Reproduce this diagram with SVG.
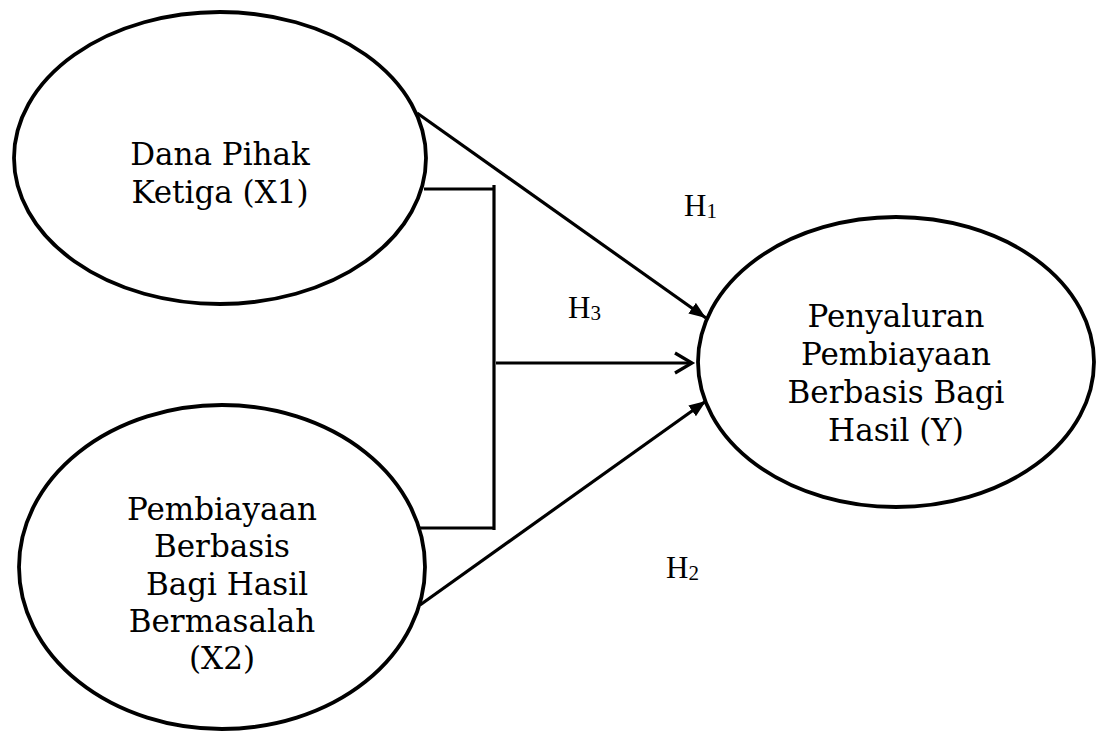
<svg xmlns="http://www.w3.org/2000/svg" width="1099" height="733" viewBox="0 0 1099 733">
<defs>
<style>
.node ellipse{fill:#fff;stroke:#000;stroke-width:3.8}
.lbl{font-family:"DejaVu Serif",serif;font-size:31px;fill:#000;text-anchor:middle}
.h{font-family:"Liberation Serif","Times New Roman",serif;font-size:31px;fill:#000}
.h tspan{font-size:21px}
.conn line,.conn polyline{stroke:#000;stroke-width:3.2;fill:none}
</style>
<marker id="tri" markerUnits="userSpaceOnUse" markerWidth="20" markerHeight="14" refX="17" refY="6.5" orient="auto">
<path d="M0,0 L17,6.5 L0,13 Z" fill="#000"/>
</marker>
</defs>
<rect width="1099" height="733" fill="#fff"/>
<g id="conn" class="conn">
<line x1="417" y1="113" x2="706" y2="318" marker-end="url(#tri)"/>
<line x1="420" y1="605" x2="706" y2="401" marker-end="url(#tri)"/>
<polyline points="424,189 494,189"/>
<line x1="494" y1="185" x2="494" y2="530"/>
<polyline points="420,528 494,528"/>
<line x1="496" y1="363" x2="692" y2="363"/>
<polyline points="675,353 692,363 675,373"/>
</g>
<g id="x1" class="node">
<ellipse cx="220" cy="158" rx="206" ry="146"/>
<text class="lbl" x="220" y="165">Dana Pihak</text>
<text class="lbl" x="220" y="203">Ketiga (X1)</text>
</g>
<g id="x2" class="node">
<ellipse cx="222" cy="567" rx="203" ry="162"/>
<text class="lbl" x="222" y="520">Pembiayaan</text>
<text class="lbl" x="222" y="557">Berbasis</text>
<text class="lbl" x="227" y="595">Bagi Hasil</text>
<text class="lbl" x="222" y="632">Bermasalah</text>
<text class="lbl" x="222" y="669">(X2)</text>
</g>
<g id="y" class="node">
<ellipse cx="896" cy="362" rx="198" ry="145"/>
<text class="lbl" x="896" y="327">Penyaluran</text>
<text class="lbl" x="896" y="365">Pembiayaan</text>
<text class="lbl" x="896" y="403">Berbasis Bagi</text>
<text class="lbl" x="896" y="441">Hasil (Y)</text>
</g>
<g id="labels">
<text class="h" x="684" y="216">H<tspan dy="2">1</tspan></text>
<text class="h" x="568" y="318">H<tspan dy="2">3</tspan></text>
<text class="h" x="666" y="578">H<tspan dy="2">2</tspan></text>
</g>
</svg>
